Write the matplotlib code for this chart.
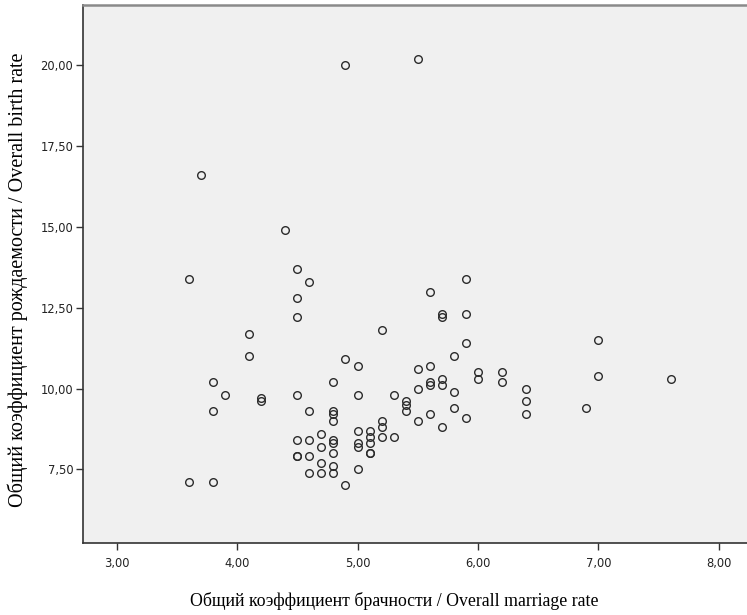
import numpy as np
import matplotlib
matplotlib.use("Agg")
import matplotlib.pyplot as plt
from matplotlib.ticker import FuncFormatter

# marriage rate (x) and birth rate (y)
marriage = [3.6, 3.6,
            3.7,
            3.8, 3.8, 3.8,
            3.9,
            4.1, 4.1,
            4.2, 4.2,
            4.4,
            4.5, 4.5, 4.5, 4.5, 4.5, 4.5, 4.5,
            4.6, 4.6, 4.6, 4.6, 4.6,
            4.7, 4.7, 4.7, 4.7,
            4.8, 4.8, 4.8, 4.8, 4.8, 4.8, 4.8, 4.8, 4.8,
            4.9, 4.9, 4.9,
            5.0, 5.0, 5.0, 5.0, 5.0, 5.0,
            5.1, 5.1, 5.1, 5.1, 5.1,
            5.2, 5.2, 5.2, 5.2,
            5.3, 5.3,
            5.4, 5.4, 5.4,
            5.5, 5.5, 5.5, 5.5,
            5.6, 5.6, 5.6, 5.6, 5.6,
            5.7, 5.7, 5.7, 5.7, 5.7,
            5.8, 5.8, 5.8,
            5.9, 5.9, 5.9, 5.9,
            6.0, 6.0,
            6.2, 6.2,
            6.4, 6.4, 6.4,
            6.9,
            7.0, 7.0,
            7.6]
birth = [13.4, 7.1,
         16.6,
         10.2, 9.3, 7.1,
         9.8,
         11.7, 11.0,
         9.7, 9.6,
         14.9,
         13.7, 12.8, 12.2, 9.8, 8.4, 7.9, 7.9,
         13.3, 9.3, 8.4, 7.9, 7.4,
         8.6, 8.2, 7.7, 7.4,
         10.2, 9.3, 9.2, 9.0, 8.4, 8.3, 8.0, 7.6, 7.4,
         20.0, 10.9, 7.0,
         10.7, 9.8, 8.7, 8.3, 8.2, 7.5,
         8.7, 8.5, 8.3, 8.0, 8.0,
         11.8, 9.0, 8.8, 8.5,
         9.8, 8.5,
         9.6, 9.5, 9.3,
         20.2, 10.6, 10.0, 9.0,
         13.0, 10.7, 10.2, 10.1, 9.2,
         12.3, 12.2, 10.3, 10.1, 8.8,
         11.0, 9.9, 9.4,
         13.4, 12.3, 11.4, 9.1,
         10.5, 10.3,
         10.5, 10.2,
         10.0, 9.6, 9.2,
         9.4,
         11.5, 10.4,
         10.3]

xticks = [3, 4, 5, 6, 7, 8]
yticks = [7.5, 10, 12.5, 15, 17.5, 20]

fig = plt.figure(figsize=(7.47, 6.15), dpi=100)
ax = fig.add_axes([83/747, 72/615, 1 - 83/747, 538/615])
ax.set_facecolor("#f0f0f0")

ax.plot(marriage, birth, "o", ms=5.5, mfc="none", mec="#2b2b2b", mew=1.0,
        clip_on=False)

ax.set_xlim(2.72, 8.235)
ax.set_ylim(5.22, 21.87)
ax.set_xticks(xticks)
ax.set_yticks(yticks)
fmt = FuncFormatter(lambda v, p: ("%.2f" % v).replace(".", ","))
ax.xaxis.set_major_formatter(fmt)
ax.yaxis.set_major_formatter(fmt)
ax.tick_params(length=5, width=1.0, color="#333333", labelsize=8.3,
               labelcolor="#222222")
ax.tick_params(axis="y", pad=2)
ax.tick_params(axis="x", pad=5)

for s in ["left", "bottom"]:
    ax.spines[s].set_color("#333333")
    ax.spines[s].set_linewidth(1.2)
ax.spines["top"].set_color("#8a8a8a")
ax.spines["top"].set_linewidth(1.8)
ax.spines["right"].set_visible(False)

ax.set_xlabel("Общий коэффициент брачности / Overall marriage rate",
              family="Liberation Serif", fontsize=12.8)
ax.set_ylabel("Общий коэффициент рождаемости / Overall birth rate",
              family="Liberation Serif", fontsize=14.5)
ax.xaxis.label.set_verticalalignment("center")
ax.yaxis.label.set_verticalalignment("center")
ax.xaxis.set_label_coords(0.468, -0.108)
ax.yaxis.set_label_coords(-0.099, 0.49)

fig.savefig("out.png", dpi=100)
